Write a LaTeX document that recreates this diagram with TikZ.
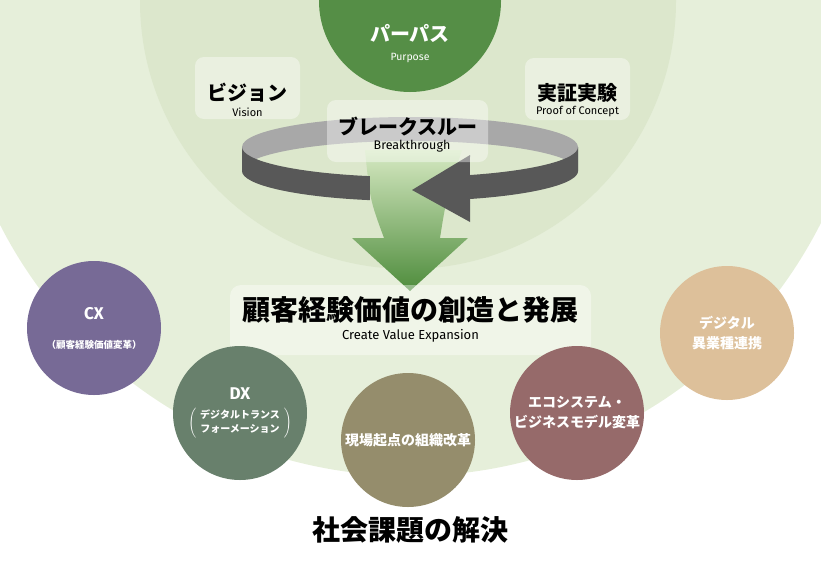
\documentclass[tikz,border=0pt]{standalone}
\usepackage{fontspec}
\setmainfont{Fira Sans}
\newfontfamily\jp{Noto Sans CJK JP}
\usepackage[dvipsnames]{xcolor}
\usepackage{tikz}
\usetikzlibrary{
        shapes,
        positioning
    }

\definecolor{outerbg}{RGB}{230,239,218}
\definecolor{innerbg}{RGB}{220,231,204}
\definecolor{purposecol}{RGB}{85,142,70}
\definecolor{cxcol}{RGB}{119,106,150}
\definecolor{dxcol}{RGB}{104,128,108}
\definecolor{sitecol}{RGB}{149,141,108}
\definecolor{ecocol}{RGB}{150,106,106}
\definecolor{digicol}{RGB}{221,192,154}
\definecolor{arrowtop}{RGB}{214,233,194}
\definecolor{arrowmid}{RGB}{166,208,142}
\definecolor{arrowbot}{RGB}{78,140,60}
\definecolor{ringdark}{RGB}{88,88,88}
\definecolor{ringlight}{RGB}{168,168,168}
\definecolor{ringpale}{RGB}{212,212,212}

\begin{document}
\begin{tikzpicture}
[x=1pt, y=1pt,
panel/.style={rectangle, rounded corners=9pt, fill=white, fill opacity=0.4, draw=none},
title/.style={font=\jp\bfseries\fontsize{20}{22}\selectfont, inner sep=0pt},
bigtitle/.style={font=\jp\bfseries\fontsize{28}{30}\selectfont, inner sep=0pt},
sub/.style={font=\fontsize{11}{13}\selectfont, inner sep=0pt},
bubble/.style={circle, minimum size=134, inner sep=0pt, text=white, align=center,
  font=\jp\bfseries\fontsize{14}{20}\selectfont},
]
\useasboundingbox (0,0) rectangle (821,-568);
\clip (0,0) rectangle (821,-568);

% background discs
\fill[outerbg] (410,-16) circle[radius=460];
\fill[innerbg] (408,-1) circle[radius=268];
\node (purposedisc) [circle, fill=purposecol, minimum size=182] at (410,-1) {};
\node (purpose) [title, text=white] at (410,-33) {パーパス};
\node (purposeen) [sub, text=white, font=\fontsize{10.5}{12}\selectfont] at (410,-58) {Purpose};

% ring, back part
\shade[left color=ringlight, middle color=ringpale, right color=ringlight]
  (242,-147) arc[start angle=180, end angle=0, x radius=168, y radius=30]
  -- (578,-171) arc[start angle=0, end angle=180, x radius=168, y radius=30] -- cycle;

% green arrow
\shade[top color=arrowtop, middle color=arrowmid, bottom color=arrowbot]
  (365,-150) .. controls (370,-200) .. (384,-238) -- (352,-238) -- (410,-291)
  -- (468,-238) -- (440,-238) .. controls (446,-200) .. (462,-150) -- cycle;

% ring, front part
\fill[ringdark] (242,-147) arc[start angle=180, end angle=256.2, x radius=168, y radius=30]
  -- ++(0,-24) arc[start angle=256.2, end angle=180, x radius=168, y radius=30] -- cycle;
\fill[ringdark] (578,-147) arc[start angle=0, end angle=-69.1, x radius=168, y radius=30]
  -- (470,-155) -- (412,-190) -- (470,-222) -- (470,-199)
  arc[start angle=-69.1, end angle=0, x radius=168, y radius=30] -- cycle;

% panels
\node (visionbox) [panel, minimum width=105, minimum height=62] at (247.5,-88) {};
\node (pocbox) [panel, minimum width=105, minimum height=62] at (577.5,-89) {};
\node (breakbox) [panel, minimum width=161, minimum height=62] at (407.5,-131) {};
\node (valuebox) [panel, minimum width=361, minimum height=70, rounded corners=11pt] at (410.5,-320) {};

\node (vision) [title] at (247.5,-93) {ビジョン};
\node (visionen) [sub] at (247.5,-112) {Vision};
\node (poc) [title] at (577.5,-93) {実証実験};
\node (pocen) [sub] at (577.5,-112) {Proof of Concept};
\node (break) [title] at (408,-127) {ブレークスルー};
\node (breaken) [sub, font=\fontsize{12.5}{14}\selectfont] at (412,-146) {Breakthrough};
\node (value) [bigtitle] at (410.5,-310) {顧客経験価値の創造と発展};
\node (valueen) [sub, font=\fontsize{13}{15}\selectfont] at (410.5,-336) {Create Value Expansion};

% bubbles
\node (cx) [bubble, fill=cxcol] at (94,-328)
  {{\rmfamily\fontsize{17}{17}\selectfont CX}\\[9pt]{\fontsize{9.5}{9.5}\selectfont （顧客経験価値変革）}};
\node (dx) [bubble, fill=dxcol] at (240,-413)
  {{\rmfamily\fontsize{17}{17}\selectfont DX}\\[7pt]
  $\left(\;\vcenter{\hbox{\jp\bfseries\fontsize{10}{14}\selectfont
  \begin{tabular}{@{}c@{}}デジタルトランス\\フォーメーション\end{tabular}}}\;\right)$};
\node (site) [bubble, fill=sitecol] at (408,-440) {現場起点の組織改革};
\node (eco) [bubble, fill=ecocol] at (577,-413) {エコシステム・\\ビジネスモデル変革};
\node (digi) [bubble, fill=digicol] at (727,-333) {デジタル\\異業種連携};

\node (goal) [bigtitle] at (410,-530) {社会課題の解決};

\end{tikzpicture}
\end{document}
